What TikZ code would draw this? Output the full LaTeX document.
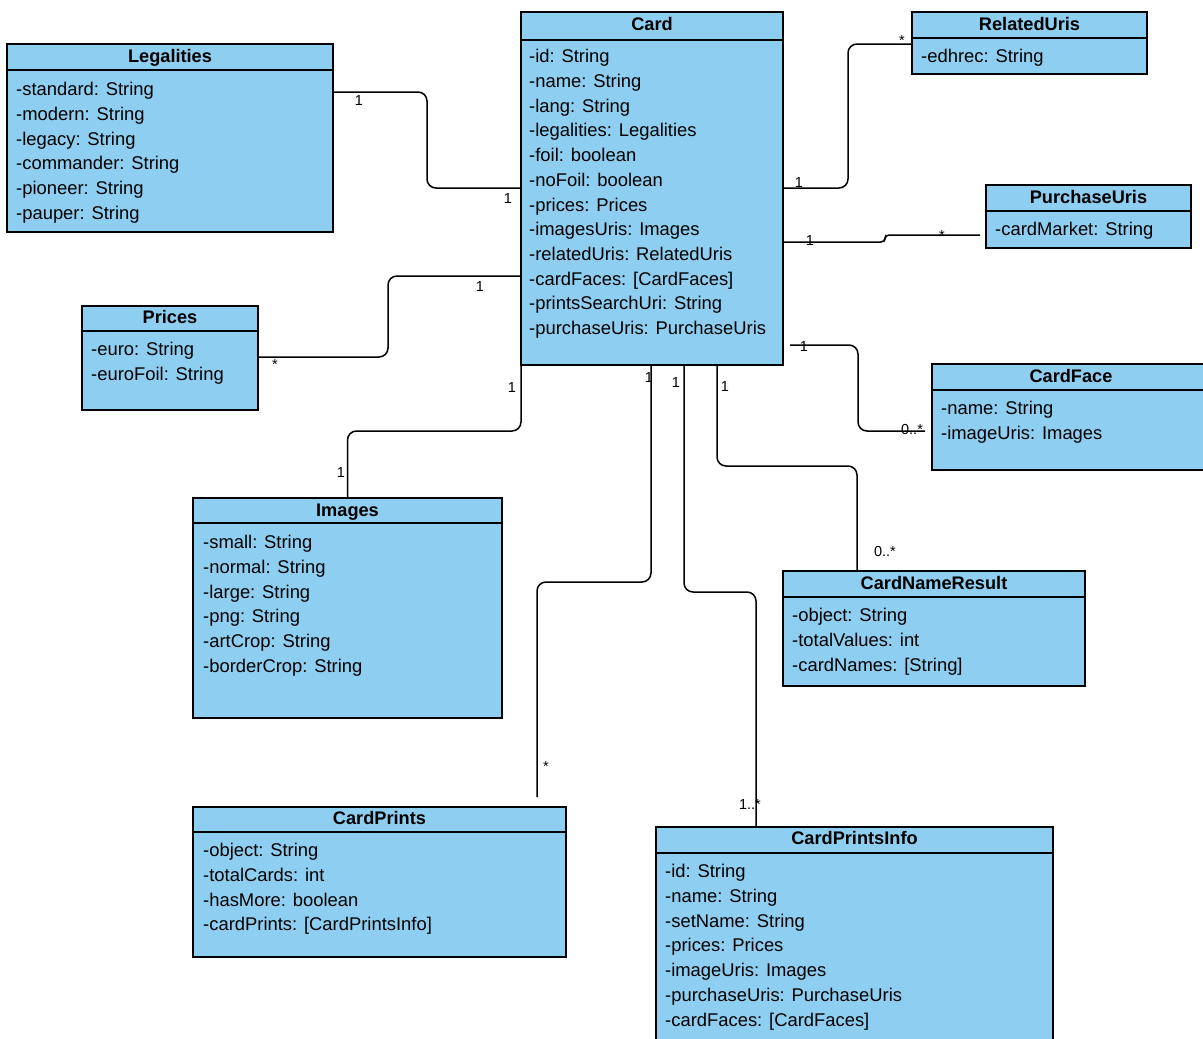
\documentclass[tikz,border=0pt]{standalone}
\usepackage{fontspec}
\setmainfont{Liberation Sans}
\definecolor{umlblue}{RGB}{142,206,240}
\tikzset{
  box/.style={draw=black, fill=umlblue, line width=1.5pt, anchor=north west, inner sep=0pt, outer sep=0pt},
  umltitle/.style={font=\fontsize{18.2}{20}\selectfont\bfseries, inner sep=0pt, anchor=base},
  attr/.style={font=\fontsize{18.4}{20}\selectfont, anchor=base west, inner sep=0pt},
  lab/.style={font=\fontsize{14.5}{16}\selectfont, inner sep=0pt},
  conn/.style={line width=1.5pt, rounded corners=9pt},
}
\newcommand\umlclass[8]{%
  \node[box, minimum width={(#4-#2)*1pt}, minimum height={(#5-#3)*1pt}] (#1) at (#2,#3) {};
  \draw[line width=1.5pt] (#2,#6) -- (#4,#6);
  \node[umltitle] (#1-t) at ({(#2+#4)/2},{#8+6.5}) {#7};
}
\newcommand\umlattrs[4]{%
  \foreach \t [count=\i from 0] in {#4} \node[attr] (#1-a\i) at (#2,{#3+6.8+\i*24.7}) {\t};
}
\begin{document}
\begin{tikzpicture}[x=1pt,y=-1pt]
\useasboundingbox[fill=white] (0,0) rectangle (1203,1039);

% classes
\umlclass{card}{521}{12}{783}{365}{40}{Card}{24}
\umlattrs{card}{529}{56}{-id: String,-name: String,-lang: String,-legalities: Legalities,-foil: boolean,-noFoil: boolean,-prices: Prices,-imagesUris: Images,-relatedUris: RelatedUris,-cardFaces: [CardFaces],-printsSearchUri: String,-purchaseUris: PurchaseUris}

\umlclass{leg}{7}{44}{333}{232}{70}{Legalities}{56}
\umlattrs{leg}{16}{89}{-standard: String,-modern: String,-legacy: String,-commander: String,-pioneer: String,-pauper: String}

\umlclass{rel}{912}{12}{1147}{74}{38}{RelatedUris}{24}
\umlattrs{rel}{921}{56}{-edhrec: String}

\umlclass{pur}{986}{185}{1191}{248}{211}{PurchaseUris}{197}
\umlattrs{pur}{995}{229}{-cardMarket: String}

\umlclass{face}{932}{364}{1210}{470}{390}{CardFace}{376}
\umlattrs{face}{941}{408}{-name: String,-imageUris: Images}

\umlclass{prices}{82}{306}{258}{410}{331}{Prices}{317}
\umlattrs{prices}{91}{349}{-euro: String,-euroFoil: String}

\umlclass{images}{193}{498}{502}{718}{523}{Images}{510}
\umlattrs{images}{203}{542}{-small: String,-normal: String,-large: String,-png: String,-artCrop: String,-borderCrop: String}

\umlclass{cnr}{783}{571}{1085}{686}{597}{CardNameResult}{583}
\umlattrs{cnr}{792}{615}{-object: String,-totalValues: int,-cardNames: [String]}

\umlclass{prints}{193}{807}{566}{957}{832}{CardPrints}{818}
\umlattrs{prints}{203}{850}{-object: String,-totalCards: int,-hasMore: boolean,-cardPrints: [CardPrintsInfo]}

\umlclass{info}{656}{827}{1053}{1050}{853}{CardPrintsInfo}{838}
\umlattrs{info}{665}{871}{-id: String,-name: String,-setName: String,-prices: Prices,-imageUris: Images,-purchaseUris: PurchaseUris,-cardFaces: [CardFaces]}

% connectors
\draw[conn] (leg.east |- 0,92) -- (427,92) -- (427,188) -- (card.west |- 0,188);
\node[lab] (l1a) at (359,101) {1};
\node[lab] (l1b) at (508,199) {1};

\draw[conn] (prices.east |- 0,357) -- (388,357) -- (388,276) -- (card.west |- 0,276);
\node[lab] (l2a) at (275,365) {*};
\node[lab] (l2b) at (480,287) {1};

\draw[conn] (card.south west) -- (card.south west |- 0,431) -- (images.north |- 0,431) -- (images.north);
\node[lab] (l3a) at (512,388) {1};
\node[lab] (l3b) at (341,473) {1};

\draw[conn] (card.east |- 0,188) -- (848,188) -- (848,44) -- (rel.west |- 0,44);
\node[lab] (l4a) at (799,183) {1};
\node[lab] (l4b) at (902,41) {*};

\draw[conn, rounded corners=4pt] (card.east |- 0,242) -- (885,242) -- (885,235) -- ([xshift=-6pt]pur.west |- 0,235);
\node[lab] (l5a) at (810,241) {1};
\node[lab] (l5b) at (942,236) {*};

\draw[conn] ([xshift=7pt]card.east |- 0,345) -- (858,345) -- (858,431) -- ([xshift=-7pt]face.west |- 0,431);
\node[lab] (l6a) at (804,347) {1};
\node[lab] (l6b) at (912,430) {0..*};

\draw[conn] (card.south -| 651,0) -- (651,582) -- (537,582) -- ([yshift=10pt]prints.north -| 537,0);
\node[lab] (l7a) at (649,378) {1};
\node[lab] (l7b) at (546,767) {*};

\draw[conn] (card.south -| 684,0) -- (684,592) -- (756,592) -- (info.north -| 756,0);
\node[lab] (l8a) at (676,383) {1};
\node[lab] (l8b) at (750,805) {1..*};

\draw[conn] (card.south -| 717,0) -- (717,466) -- (857,466) -- (cnr.north -| 857,0);
\node[lab] (l9a) at (725,387) {1};
\node[lab] (l9b) at (885,552) {0..*};
\end{tikzpicture}
\end{document}
